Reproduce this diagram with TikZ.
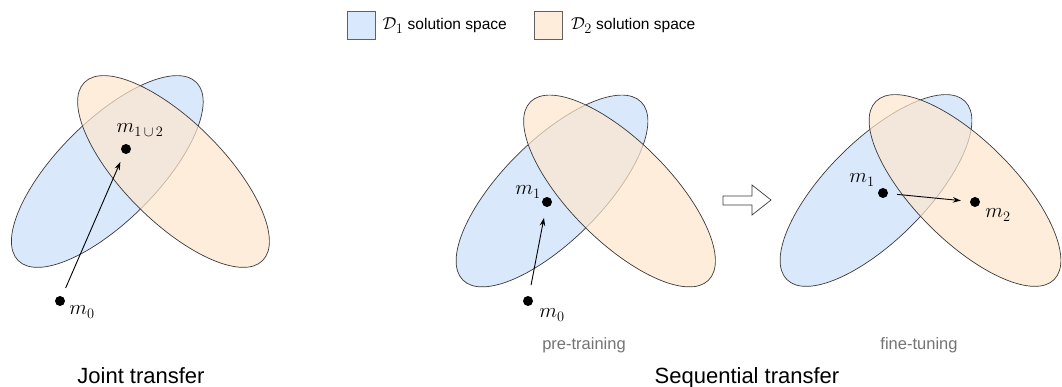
\documentclass[tikz,border=0pt]{standalone}
\usepackage[no-math]{fontspec}
\setmainfont{Liberation Sans}
\usepackage{amsmath,amssymb}
\usetikzlibrary{arrows.meta,positioning,shapes.geometric}
\definecolor{dblue}{HTML}{DAE8FC}
\definecolor{dorange}{HTML}{FFE6CC}
\definecolor{lineclr}{HTML}{3A3A3A}

\begin{document}
\begin{tikzpicture}[x=1pt,y=1pt,
  spaceA/.style={ellipse,draw=lineclr,line width=0.7pt,fill=dblue,
                 minimum width=252pt,minimum height=100pt,inner sep=0pt},
  spaceB/.style={spaceA,fill=dorange,fill opacity=0.7},
  mdot/.style={circle,fill=black,minimum size=10pt,inner sep=0pt},
  mlbl/.style={font=\fontsize{22}{26}\selectfont,inner sep=0pt},
  keybox/.style={rectangle,draw=lineclr!80,line width=0.6pt,
                 minimum width=28pt,minimum height=28pt,inner sep=0pt},
  keytxt/.style={font=\fontsize{15.5}{18}\selectfont,inner sep=0pt},
  stage/.style={font=\fontsize{16.5}{20}\selectfont,text=black!55,anchor=base},
  caption/.style={font=\fontsize{22}{26}\selectfont,anchor=base},
  arr/.style={-{Stealth[length=8pt,width=5.5pt]},line width=0.9pt,
              shorten <=9pt,shorten >=9pt}
]
\useasboundingbox (0,0) rectangle (1062,387);

% legend
\node[keybox,fill=dblue] (key1) at (361,361.5) {};
\node[keytxt,right=7pt of key1] (keytxt1)
  {{\fontsize{19}{20}\selectfont$\mathcal{D}_1$}\ solution space};
\node[keybox,fill=dorange,fill opacity=0.7,text opacity=1] (key2) at (548.5,361.5) {};
\node[keytxt,right=8pt of key2] (keytxt2)
  {{\fontsize{19}{20}\selectfont$\mathcal{D}_2$}\ solution space};

% joint transfer
\node[spaceA,rotate=45]  (jd1) at (107.3,215.5) {};
\node[spaceB,rotate=-45] (jd2) at (173.5,215.5) {};
\node[mdot] (jm0)  at (60,86) {};
\node[mdot] (jm12) at (126,238) {};
\node[mlbl] (jm0lbl)  at ([shift={(22,-11)}]jm0.center) {$m_0$};
\node[mlbl] (jm12lbl) at ([shift={(14,19)}]jm12.center) {$m_{1\,\cup\,2}$};
\draw[arr] (jm0) -- (jm12);
\node[caption] (joint) at (141,3) {Joint transfer};

% pre-training
\node[spaceA,rotate=45]  (pd1) at (552,196) {};
\node[spaceB,rotate=-45] (pd2) at (619.5,196) {};
\node[mdot] (pm0) at (528,86) {};
\node[mdot] (pm1) at (547,185) {};
\node[mlbl] (pm0lbl) at ([shift={(24,-14)}]pm0.center) {$m_0$};
\node[mlbl] (pm1lbl) at ([shift={(-19,10)}]pm1.center) {$m_1$};
\draw[arr,shorten <=11pt,shorten >=11pt] (pm0) -- (pm1);
\node[stage] (pre) at (584,37) {pre-training};

% step arrow
\draw[lineclr,line width=0.7pt,fill=white]
  (723,182) -- (752,182) -- (752,172) -- (771,187) -- (752,202)
  -- (752,191) -- (723,191) -- cycle;

% fine-tuning
\node[spaceA,rotate=45]  (fd1) at (876,196.5) {};
\node[spaceB,rotate=-45] (fd2) at (965,196.5) {};
\node[mdot] (fm1) at (883,194) {};
\node[mdot] (fm2) at (975,185) {};
\node[mlbl] (fm1lbl) at ([shift={(-21,13)}]fm1.center) {$m_1$};
\node[mlbl] (fm2lbl) at ([shift={(23,-13)}]fm2.center) {$m_2$};
\draw[arr] (fm1) -- (fm2);
\node[stage] (fine) at (919,37) {fine-tuning};

\node[caption] (seq) at (747,3) {Sequential transfer};
\end{tikzpicture}
\end{document}
